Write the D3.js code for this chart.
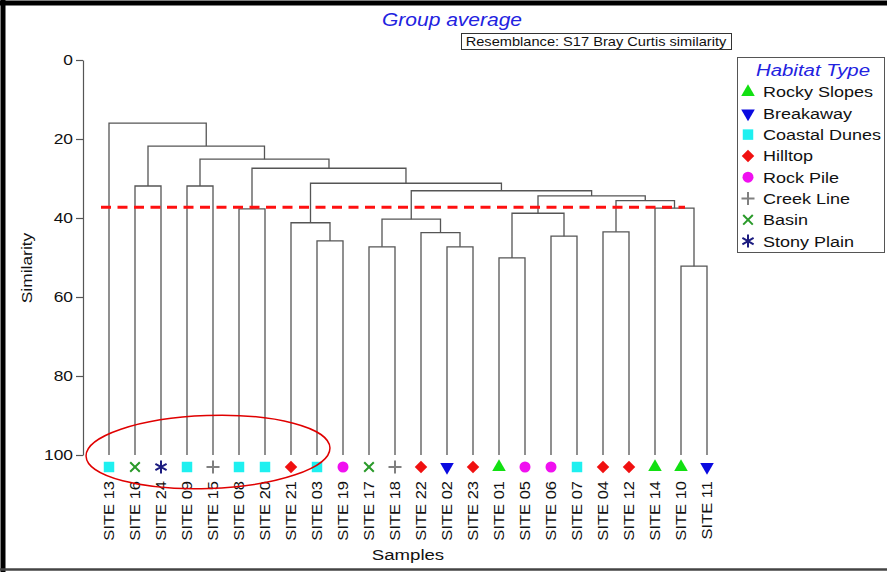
<!DOCTYPE html>
<html>
<head>
<meta charset="utf-8">
<script src="https://cdn.jsdelivr.net/npm/d3@7"></script>
<style>
  body { margin: 0; background: #fff; }
  svg { display: block; }
  text { font-family: "Liberation Sans", Arial, sans-serif; }
</style>
</head>
<body>
<svg id="chart" width="887" height="572"></svg>
<script>
// leaf order as drawn, left to right
const sites = ["SITE 13", "SITE 16", "SITE 24", "SITE 09", "SITE 15", "SITE 08", "SITE 20", "SITE 21",
    "SITE 03", "SITE 19", "SITE 17", "SITE 18", "SITE 22", "SITE 02", "SITE 23", "SITE 01",
    "SITE 05", "SITE 06", "SITE 07", "SITE 04", "SITE 12", "SITE 14", "SITE 10", "SITE 11"];

const siteHabitat = ["Coastal Dunes", "Basin", "Stony Plain", "Coastal Dunes", "Creek Line", "Coastal Dunes",
    "Coastal Dunes", "Hilltop", "Coastal Dunes", "Rock Pile", "Basin", "Creek Line", "Hilltop", "Breakaway",
    "Hilltop", "Rocky Slopes", "Rock Pile", "Rock Pile", "Coastal Dunes", "Hilltop", "Hilltop",
    "Rocky Slopes", "Rocky Slopes", "Breakaway"];

const habitatTypes = ["Rocky Slopes", "Breakaway", "Coastal Dunes", "Hilltop", "Rock Pile", "Creek Line", "Basin", "Stony Plain"];
const habitatColors = ["#12e012", "#0a0ae0", "#1ef0f0", "#f01010", "#f010f0", "#808080", "#2a9a2a", "#1c1c80"];

// merges: [id, left, right, similarity]
const merges = [
    ["m1", "SITE 16", "SITE 24", 31.9],
    ["m2", "SITE 09", "SITE 15", 31.9],
    ["m3", "SITE 08", "SITE 20", 37.7],
    ["m4", "SITE 03", "SITE 19", 45.8],
    ["m5", "SITE 21", "m4", 41.2],
    ["m6", "SITE 17", "SITE 18", 47.3],
    ["m7", "SITE 02", "SITE 23", 47.3],
    ["m8", "SITE 22", "m7", 43.7],
    ["m9", "m6", "m8", 40.3],
    ["m10", "SITE 01", "SITE 05", 50.1],
    ["m11", "SITE 06", "SITE 07", 44.6],
    ["m12", "m10", "m11", 38.8],
    ["m13", "SITE 04", "SITE 12", 43.5],
    ["m14", "SITE 10", "SITE 11", 52.2],
    ["m15", "SITE 14", "m14", 37.5],
    ["m16", "m13", "m15", 35.6],
    ["m17", "m12", "m16", 34.4],
    ["m18", "m9", "m17", 33.1],
    ["m19", "m5", "m18", 31.2],
    ["m20", "m3", "m19", 27.4],
    ["m21", "m2", "m20", 25.1],
    ["m22", "m1", "m21", 21.8],
    ["m23", "SITE 13", "m22", 16.0]
];

const yTicks = [0, 20, 40, 60, 80, 100];
const cutLevel = 37.3;

const stretch = 1.2; // the source font is wider than Arial

const svg = d3.select("#chart");

const x = d3.scalePoint().domain(sites).range([109, 707]);
const y = d3.scaleLinear().domain([0, 100]).range([60, 455]);

// frame
svg.append("line").attr("x1", 0).attr("x2", 887).attr("y1", 3).attr("y2", 3)
    .attr("stroke", "#000").attr("stroke-width", 5);
svg.append("line").attr("x1", 3).attr("x2", 3).attr("y1", 0).attr("y2", 572)
    .attr("stroke", "#000").attr("stroke-width", 5);
svg.append("line").attr("x1", 0).attr("x2", 887).attr("y1", 569.5).attr("y2", 569.5)
    .attr("stroke", "#444").attr("stroke-width", 2.5);

// titles
svg.append("text")
    .attr("transform", `translate(452,26) scale(${stretch},1)`)
    .attr("text-anchor", "middle")
    .attr("font-size", "17.5px")
    .attr("font-style", "italic")
    .attr("fill", "#2222e0")
    .text("Group average");

svg.append("rect")
    .attr("x", 461.5).attr("y", 33.5).attr("width", 270).attr("height", 16)
    .attr("fill", "#fff").attr("stroke", "#333").attr("stroke-width", 1);
svg.append("text")
    .attr("transform", `translate(596,46) scale(1.17,1)`)
    .attr("text-anchor", "middle")
    .attr("font-size", "12.5px")
    .attr("fill", "#111")
    .text("Resemblance: S17 Bray Curtis similarity");

// y axis
const yAxis = svg.append("g")
    .attr("transform", "translate(83,0)")
    .call(d3.axisLeft(y).tickValues(yTicks).tickSize(7).tickSizeOuter(0).tickPadding(3));
yAxis.select(".domain").attr("stroke", "#555").attr("stroke-width", 1.2);
yAxis.selectAll(".tick line").attr("stroke", "#555").attr("stroke-width", 1.2);
yAxis.selectAll(".tick text")
    .attr("font-family", "Liberation Sans, Arial, sans-serif")
    .attr("font-size", "14.5px")
    .attr("fill", "#111")
    .attr("x", -10 / stretch)
    .attr("transform", `scale(${stretch},1)`);

svg.append("text")
    .attr("transform", `translate(32,268) rotate(-90) scale(${stretch},1)`)
    .attr("text-anchor", "middle")
    .attr("font-size", "14.5px")
    .attr("fill", "#111")
    .text("Similarity");

svg.append("text")
    .attr("transform", `translate(408,560) scale(${stretch},1)`)
    .attr("text-anchor", "middle")
    .attr("font-size", "15.5px")
    .attr("fill", "#111")
    .text("Samples");

// build node positions
const nodes = {};
sites.forEach(s => { nodes[s] = { x: x(s), h: 100 }; });
merges.forEach(m => {
    const a = nodes[m[1]], b = nodes[m[2]];
    nodes[m[0]] = { x: (a.x + b.x) / 2, h: m[3] };
});

// dendrogram links
svg.append("g").selectAll("path")
    .data(merges)
    .enter()
    .append("path")
    .attr("d", m => {
        const a = nodes[m[1]], b = nodes[m[2]];
        return `M${a.x},${y(a.h)}V${y(m[3])}H${b.x}V${y(b.h)}`;
    })
    .attr("fill", "none")
    .attr("stroke", "#555")
    .attr("stroke-width", 1.3);

// cut line
svg.append("line")
    .attr("x1", x(sites[0]) - 8).attr("x2", x("SITE 10") + 4)
    .attr("y1", y(cutLevel)).attr("y2", y(cutLevel))
    .attr("stroke", "#ff1010").attr("stroke-width", 3)
    .attr("stroke-dasharray", "10,6.5");

// marker shapes
function markerPath(habitat) {
    const i = habitatTypes.indexOf(habitat);
    if (i === 0) return d3.symbol(d3.symbolTriangle, 80)();
    if (i === 1) return d3.symbol(d3.symbolTriangle, 80)();
    if (i === 2) return d3.symbol(d3.symbolSquare, 110)();
    if (i === 3) return d3.symbol(d3.symbolSquare, 78)();
    if (i === 4) return d3.symbol(d3.symbolCircle, 95)();
    if (i === 5) return "M-6.5,0H6.5M0,-6.5V6.5";
    if (i === 6) return "M-4.8,-4.8L4.8,4.8M-4.8,4.8L4.8,-4.8";
    return "M0,-6.5V6.5M-5.6,-3.2L5.6,3.2M-5.6,3.2L5.6,-3.2";
}
function markerRotate(habitat) {
    const i = habitatTypes.indexOf(habitat);
    if (i === 1) return 180;
    if (i === 3) return 45;
    return 0;
}
function drawMarker(g, habitat) {
    const i = habitatTypes.indexOf(habitat);
    const stroked = i >= 5;
    g.append("path")
        .attr("d", markerPath(habitat))
        .attr("transform", `rotate(${markerRotate(habitat)})`)
        .attr("fill", stroked ? "none" : habitatColors[i])
        .attr("stroke", stroked ? habitatColors[i] : "none")
        .attr("stroke-width", stroked ? 2 : 0);
}

// leaf markers
sites.forEach((s, i) => {
    const g = svg.append("g").attr("transform", `translate(${x(s)},${y(100) + 12})`);
    drawMarker(g, siteHabitat[i]);
});

// leaf labels
svg.append("g").selectAll("text")
    .data(sites)
    .enter()
    .append("text")
    .attr("transform", d => `translate(${x(d)},481) rotate(-90) scale(1.18,1)`)
    .attr("dy", "0.36em")
    .attr("text-anchor", "end")
    .attr("font-size", "14px")
    .attr("fill", "#111")
    .text(d => d);

// highlight ellipse
const ecx = (x(sites[0]) + x(sites[8])) / 2 - 5;
svg.append("ellipse")
    .attr("transform", `translate(${ecx},452) rotate(-2)`)
    .attr("rx", 122).attr("ry", 36.5)
    .attr("fill", "none")
    .attr("stroke", "#e00000")
    .attr("stroke-width", 1.5);

// legend
const legend = svg.append("g");
legend.append("rect")
    .attr("x", 737.5).attr("y", 57.5).attr("width", 147).attr("height", 195)
    .attr("fill", "#fff").attr("stroke", "#555").attr("stroke-width", 1);
legend.append("text")
    .attr("transform", `translate(813,76) scale(${stretch},1)`)
    .attr("text-anchor", "middle")
    .attr("font-size", "17px")
    .attr("font-style", "italic")
    .attr("fill", "#2222e0")
    .text("Habitat Type");

habitatTypes.forEach((h, i) => {
    const cy = 92 + i * 21.3;
    const g = legend.append("g").attr("transform", `translate(748,${cy})`);
    drawMarker(g, h);
    legend.append("text")
        .attr("transform", `translate(763,${cy}) scale(${stretch},1)`)
        .attr("dy", "0.36em")
        .attr("font-size", "15px")
        .attr("fill", "#111")
        .text(h);
});
</script>
</body>
</html>
